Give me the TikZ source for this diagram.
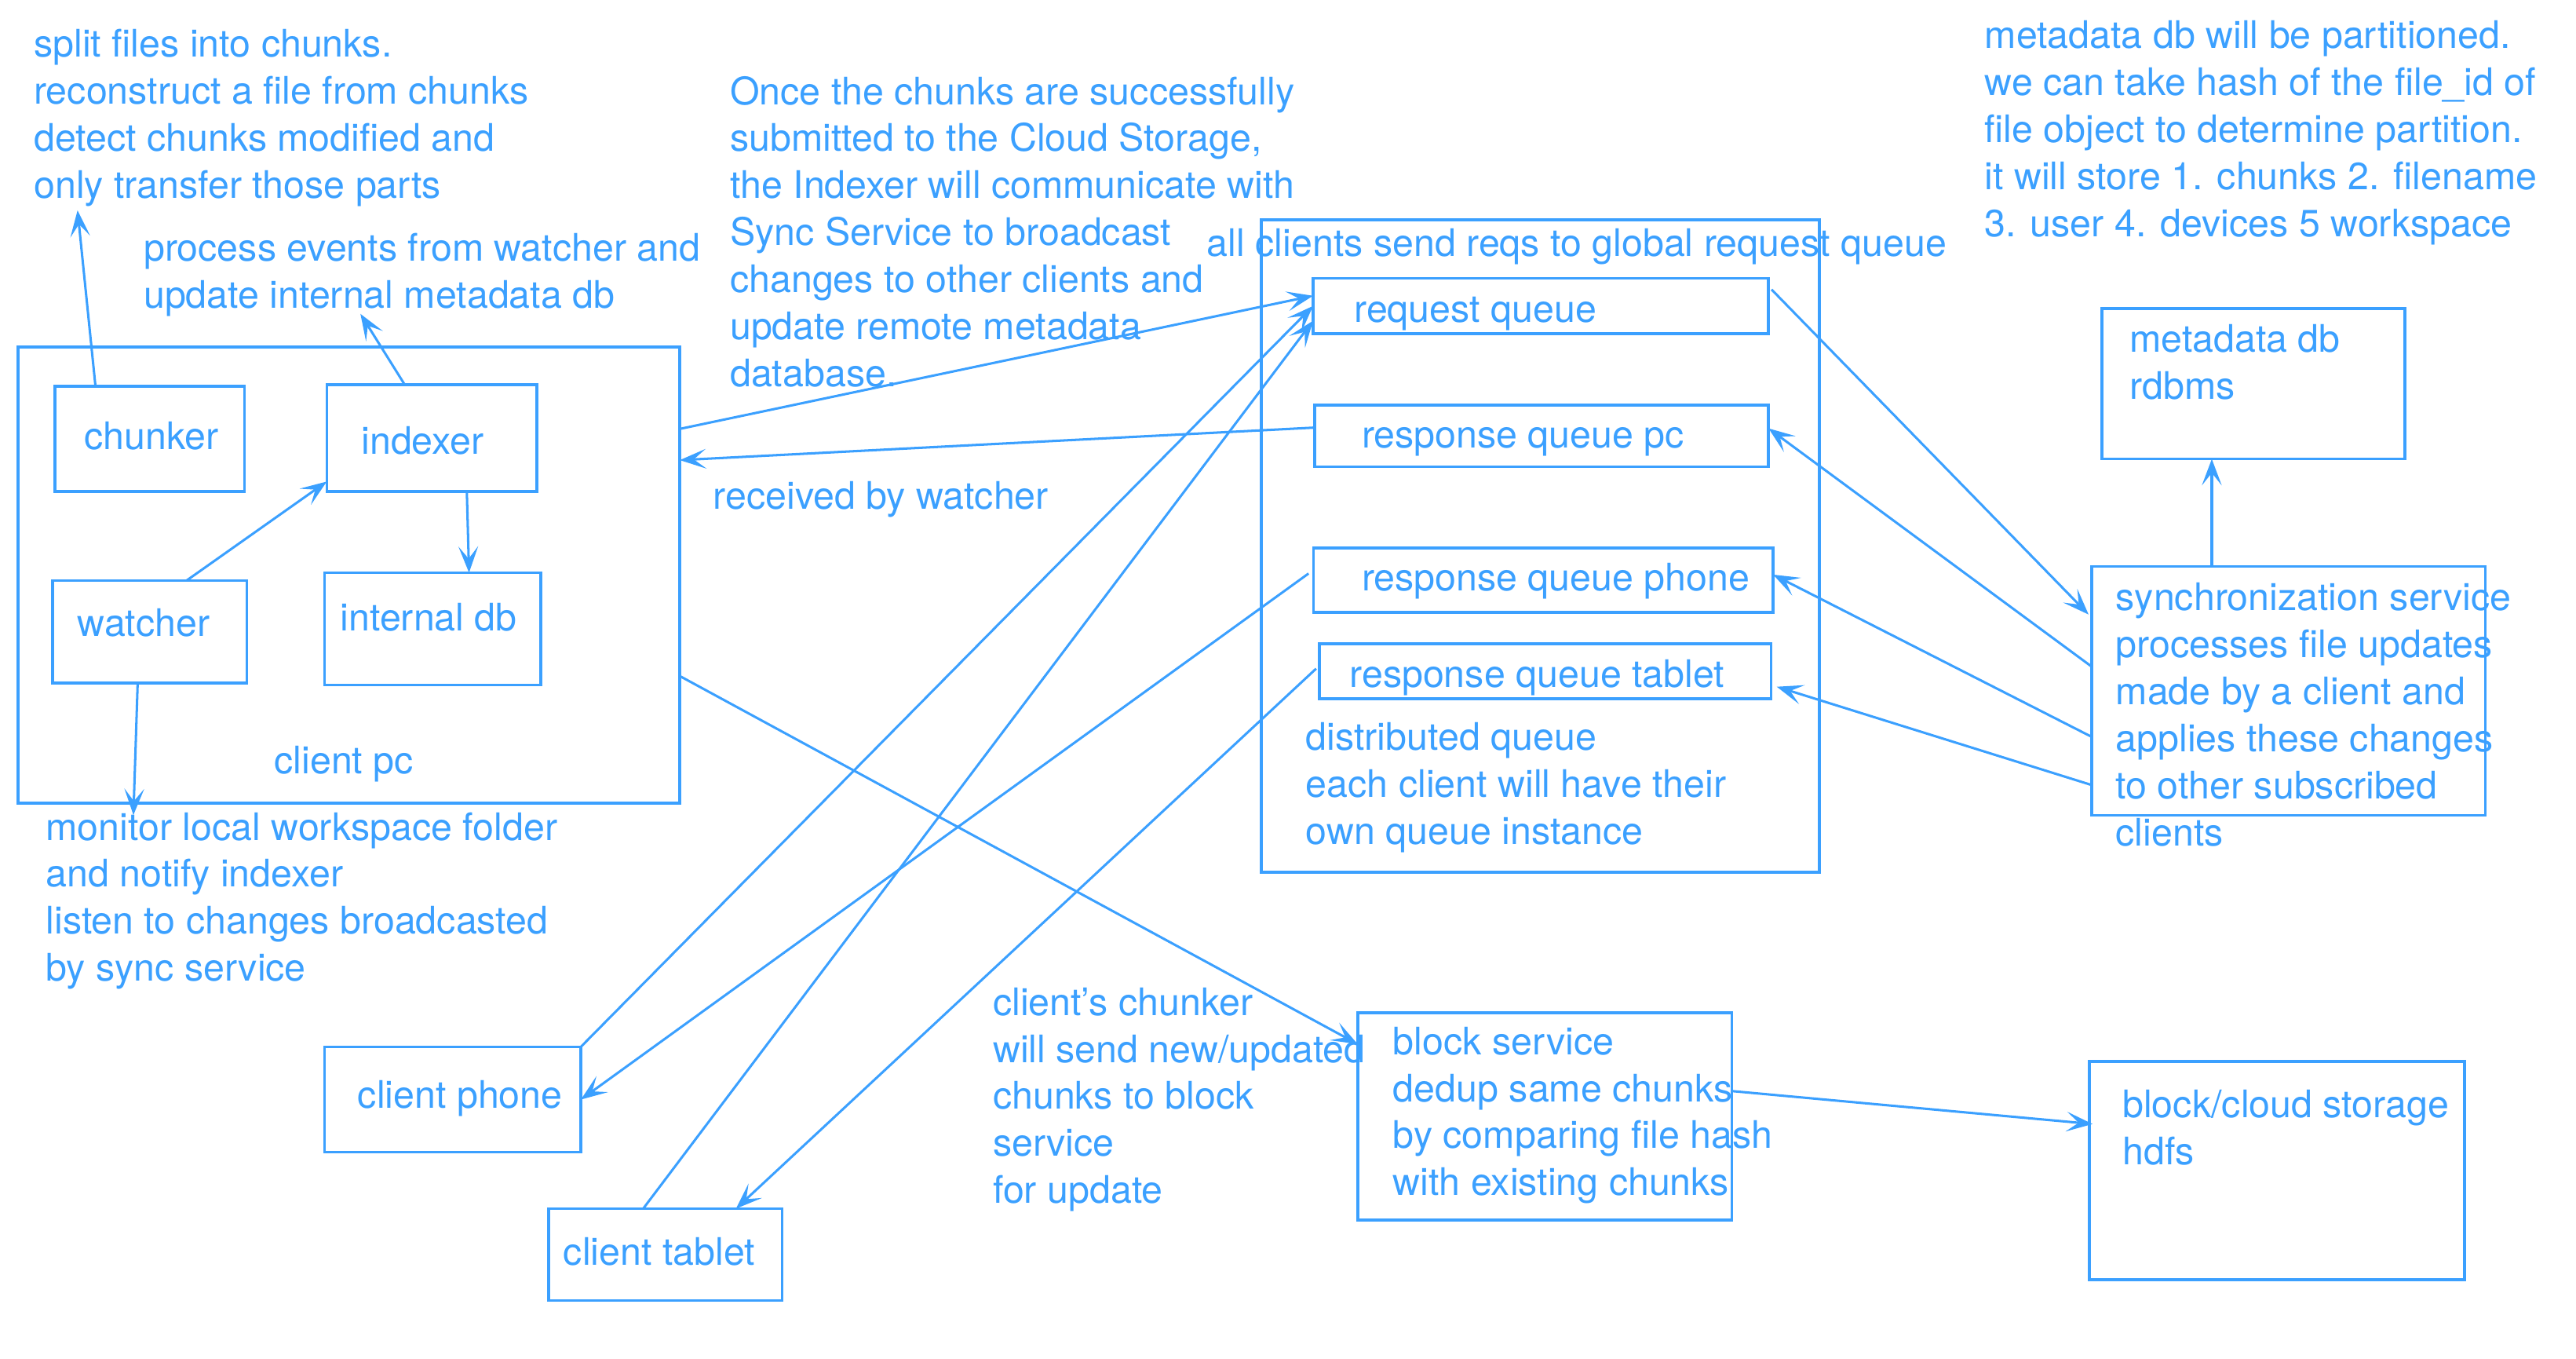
\documentclass[tikz,border=0pt]{standalone}
\usepackage{fontspec}
\setmainfont{TeX Gyre Heros}
\usetikzlibrary{arrows.meta}
\definecolor{mblue}{RGB}{59,160,255}
\begin{document}
\begin{tikzpicture}[x=1pt,y=-1pt,
  box/.style={draw=mblue, line width=1.7pt, inner sep=0pt, outer sep=0pt},
  txt/.style={text=mblue, inner sep=0pt, outer sep=0pt, anchor=base west, align=left,
     font=\fontsize{23.1}{28.6}\selectfont},
  arr/.style={draw=mblue, line width=1.45pt, -{Stealth[length=16pt,width=12pt,inset=7.5pt]}}]
\useasboundingbox (0,0) rectangle (1568,826.6);

% boxes
\node[box, minimum width=402.8pt, minimum height=277.7pt] (clientpc) at (212.4,350) {};
\node[box, minimum width=115.4pt, minimum height=64.1pt] (chunker) at (91.1,267) {};
\node[box, minimum width=127.9pt, minimum height=64.9pt] (indexer) at (262.85,266.55) {};
\node[box, minimum width=118.2pt, minimum height=62.5pt] (watcher) at (91.1,384.5) {};
\node[box, minimum width=131.6pt, minimum height=68.3pt] (internaldb) at (263.3,382.65) {};
\node[box, minimum width=339.7pt, minimum height=397pt] (queue) at (937.65,332.3) {};
\node[box, minimum width=277.1pt, minimum height=33.6pt] (reqq) at (937.8,186.2) {};
\node[box, minimum width=276.2pt, minimum height=37.6pt] (rqpc) at (938.4,265.2) {};
\node[box, minimum width=279.8pt, minimum height=39.2pt] (rqphone) at (939.4,353) {};
\node[box, minimum width=275pt, minimum height=33.4pt] (rqtablet) at (940.6,408.5) {};
\node[box, minimum width=184.6pt, minimum height=91.5pt] (metadb) at (1371.6,233.55) {};
\node[box, minimum width=239.4pt, minimum height=151.5pt] (sync) at (1393,420.45) {};
\node[box, minimum width=156.1pt, minimum height=64.2pt] (phone) at (275.55,669.1) {};
\node[box, minimum width=142pt, minimum height=56pt] (tablet) at (405,763.5) {};
\node[box, minimum width=227.8pt, minimum height=126.3pt] (block) at (940.3,679.35) {};
\node[box, minimum width=228.5pt, minimum height=133pt] (storage) at (1386,712.3) {};

% texts (anchor = baseline of last line)
\node[txt] (splitnote) at (20.7,120.5) {split files into chunks.\\reconstruct a file from chunks\\detect chunks modified and\\only transfer those parts};
\node[txt] (processnote) at (87.5,187.5) {process events from watcher and\\update internal metadata db};
\node[txt] (oncenote) at (444.4,235.2) {Once the chunks are successfully\\submitted to the Cloud Storage,\\the Indexer will communicate with\\Sync Service to broadcast\\changes to other clients and\\update remote metadata\\database.};
\node[txt] (allclients) at (734.7,156) {all clients send reqs to global request queue};
\node[txt] (received) at (434.2,310) {received by watcher};
\node[txt] (chunkerlbl) at (51.5,273.5) {chunker};
\node[txt] (indexerlbl) at (220,276.6) {indexer};
\node[txt] (watcherlbl) at (47.2,387.3) {watcher};
\node[txt] (internaldblbl) at (207.2,383.7) {internal db};
\node[txt] (clientpclbl) at (167,471) {client pc};
\node[txt] (monitornote) at (28,597) {monitor local workspace folder\\and notify indexer\\listen to changes broadcasted\\by sync service};
\node[txt] (reqqlbl) at (824.3,196) {request queue};
\node[txt] (rqpclbl) at (828.9,272.5) {response queue pc};
\node[txt] (rqphonelbl) at (828.9,359.4) {response queue phone};
\node[txt] (rqtabletlbl) at (821.5,418.4) {response queue tablet};
\node[txt] (distnote) at (794.9,513.7) {distributed queue\\each client will have their\\own queue instance};
\node[txt] (metanote) at (1208.1,144) {metadata db will be partitioned.\\we can take hash of the file\_id of\\file object to determine partition.\\it will store 1. chunks 2. filename\\3. user 4. devices 5 workspace};
\node[txt] (metadblbl) at (1296.3,243) {metadata db\\rdbms};
\node[txt] (synclbl) at (1287.9,514.6) {synchronization service\\processes file updates\\made by a client and\\applies these changes\\to other subscribed\\clients};
\node[txt] (phonelbl) at (217.8,674.2) {client phone};
\node[txt] (tabletlbl) at (343,770) {client tablet};
\node[txt] (blocklbl) at (848,727.5) {block service\\dedup same chunks\\by comparing file hash\\with existing chunks};
\node[txt] (chunkernote) at (604.4,732.2) {client’s chunker\\will send new/updated\\chunks to block\\service\\for update};
\node[txt] (storagelbl) at (1292,708.8) {block/cloud storage\\hdfs};

% free ends
\coordinate (chunkerend) at (47.2,128);
\coordinate (indexerend) at (219.4,191);
\coordinate (watcherend) at (81.2,496);

% connectors
\draw[arr] ([xshift=-33pt]chunker.north) -- (chunkerend);
\draw[arr] ([xshift=-16.5pt]indexer.north) -- (indexerend);
\draw[arr] ([xshift=22.5pt]watcher.north) -- ([yshift=-26.5pt]indexer.west);
\draw[arr] ([xshift=21.3pt]indexer.south) -- ([xshift=22.2pt]internaldb.north);
\draw[arr] ([xshift=-7.3pt]watcher.south) -- (watcherend);
\draw[arr] ([yshift=89pt]clientpc.east) -- ([yshift=6.2pt]reqq.west);
\draw[arr] ([yshift=5pt]rqpc.west) -- ([yshift=70pt]clientpc.east);
\draw[arr] ([yshift=-61.4pt]clientpc.east) -- ([yshift=44pt]block.west);
\draw[arr] (phone.north east) -- ([yshift=0pt]reqq.west);
\draw[arr] ([xshift=-13.5pt]tablet.north) -- ([yshift=-9pt]reqq.west);
\draw[arr] ([xshift=-3pt,yshift=4pt]rqphone.west) -- (phone.east);
\draw[arr] ([xshift=-2pt,yshift=1.6pt]rqtablet.west) -- ([xshift=43pt]tablet.north);
\draw[arr] ([xshift=2pt,yshift=10pt]reqq.east) -- ([xshift=-2pt,yshift=46.5pt]sync.west);
\draw[arr] ([yshift=14.7pt]sync.west) -- ([yshift=4.5pt]rqpc.east);
\draw[arr] ([yshift=-28pt]sync.west) -- ([yshift=3.3pt]rqphone.east);
\draw[arr] ([yshift=-57.3pt]sync.west) -- ([xshift=3.4pt,yshift=-9.4pt]rqtablet.east);
\draw[arr] ([xshift=-46.7pt]sync.north) -- ([xshift=-25.3pt]metadb.south);
\draw[arr] ([yshift=15.4pt]block.east) -- ([xshift=2pt,yshift=28.3pt]storage.west);
\end{tikzpicture}
\end{document}
